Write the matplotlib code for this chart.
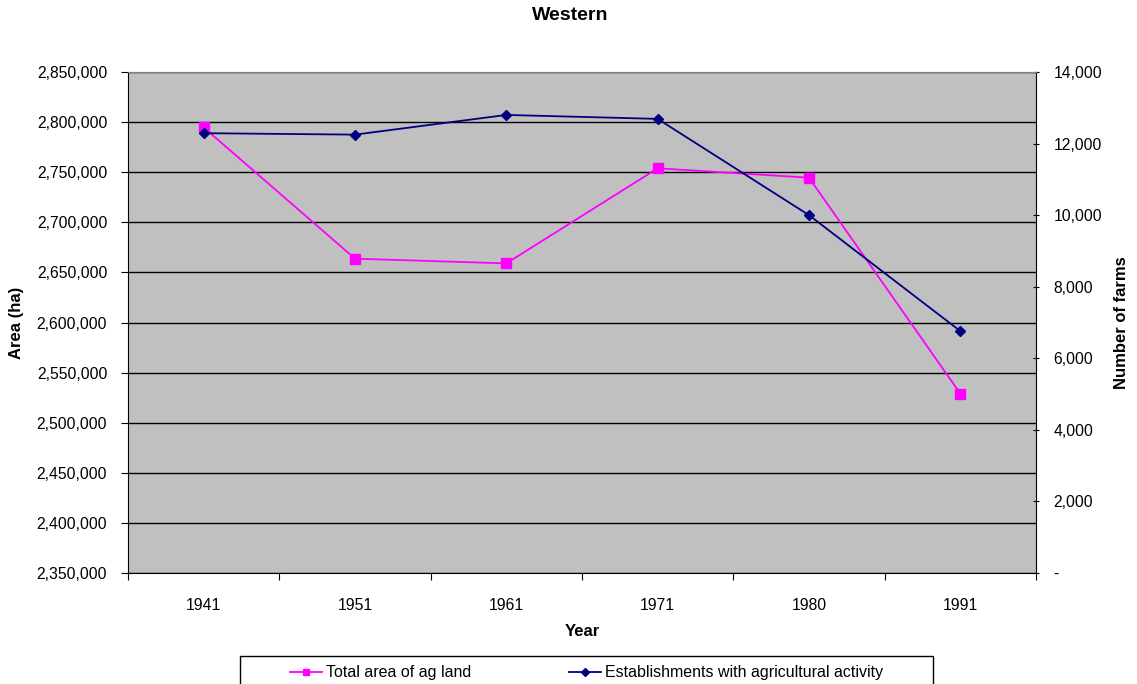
import matplotlib
matplotlib.use("Agg")
import matplotlib.pyplot as plt
from matplotlib.lines import Line2D
from matplotlib.patches import Rectangle
from matplotlib.ticker import FuncFormatter, MultipleLocator

plt.rcParams['font.family'] = ['Liberation Sans', 'DejaVu Sans']

years = ["1941", "1951", "1961", "1971", "1980", "1991"]
ag_area_ha = [2794700, 2663700, 2659000, 2753900, 2744500, 2529000]
farm_count = [12290, 12250, 12800, 12690, 10000, 6760]

W, H = 1137, 684
PINK = "#FF00FF"
NAVY = "#000080"
TICK_FS = 11.3
LABEL_FS = 12

fig = plt.figure(figsize=(W / 100, H / 100), dpi=100)
ax = fig.add_axes([128 / W, 1 - 573 / H, (1036 - 128) / W, (573 - 72) / H])
ax2 = ax.twinx()

ax.set_facecolor("#C0C0C0")
x = list(range(len(years)))

ax.plot(x, ag_area_ha, color=PINK, lw=1.3, marker="s", markersize=7,
        markerfacecolor=PINK, markeredgecolor=PINK)
ax2.plot(x, farm_count, color=NAVY, lw=1.3, marker="D", markersize=5.5,
         markerfacecolor=NAVY, markeredgecolor=NAVY)

ax.set_xlim(-0.5, len(years) - 0.5)
ax.set_ylim(2350000, 2850000)
ax2.set_ylim(0, 14000)

ax.yaxis.set_major_locator(MultipleLocator(50000))
ax2.yaxis.set_major_locator(MultipleLocator(2000))
ax.yaxis.set_major_formatter(FuncFormatter(lambda v, p: f"{v:,.0f}"))
ax2.yaxis.set_major_formatter(FuncFormatter(lambda v, p: "-" if v == 0 else f"{v:,.0f}"))

ax.grid(axis="y", color="black", lw=1.0)
ax.set_axisbelow(True)

# category labels centred, tick marks between categories
ax.set_xticks([i - 0.5 for i in range(len(years) + 1)])
ax.set_xticklabels([])
ax.set_xticks(x, minor=True)
ax.set_xticklabels(years, minor=True)
ax.tick_params(axis="x", which="minor", length=0, pad=18, labelsize=TICK_FS)
ax.tick_params(axis="x", which="major", length=5, direction="out", color="black")

ax.tick_params(axis="y", length=5, direction="out", labelsize=TICK_FS, pad=10)
ax2.tick_params(axis="y", length=5, direction="inout", labelsize=TICK_FS, pad=10)

ax.spines["top"].set_color("#808080")
ax2.spines["top"].set_color("#808080")
ax2.spines["left"].set_visible(False)
ax2.spines["bottom"].set_visible(False)
ax.spines["right"].set_visible(False)
ax.spines["left"].set_color("black")
ax.spines["bottom"].set_color("black")
ax2.spines["right"].set_color("black")

# titles
fig.text(570 / W, 1 - 16 / H, "Western", ha="center", va="center",
         fontsize=14, fontweight="bold")
fig.text(582 / W, 1 - 631 / H, "Year", ha="center", va="center",
         fontsize=LABEL_FS, fontweight="bold")
fig.text(16 / W, 1 - 323 / H, "Area (ha)", ha="center", va="center",
         rotation=90, fontsize=LABEL_FS, fontweight="bold")
fig.text(1122 / W, 1 - 323 / H, "Number of farms", ha="center", va="center",
         rotation=90, fontsize=LABEL_FS, fontweight="bold")

# legend box
fig.patches.append(Rectangle((240 / W, -0.02), 693 / W, (684 - 656) / H + 0.02,
                             transform=fig.transFigure, facecolor="white",
                             edgecolor="black", lw=1.0))
handles = [
    Line2D([], [], color=PINK, lw=1.3, marker="s", markersize=5,
           markerfacecolor=PINK, markeredgecolor=PINK),
    Line2D([], [], color=NAVY, lw=1.3, marker="D", markersize=4,
           markerfacecolor=NAVY, markeredgecolor=NAVY),
]
fig.legend(handles=handles,
           labels=["Total area of ag land", "Establishments with agricultural activity"],
           ncol=2, loc="center left", bbox_to_anchor=(290 / W, 1 - 673 / H),
           fontsize=11.5, frameon=False, handlelength=2.0, handletextpad=0.25,
           columnspacing=6.1, borderpad=0, borderaxespad=0)

fig.savefig("out.png", dpi=100)
